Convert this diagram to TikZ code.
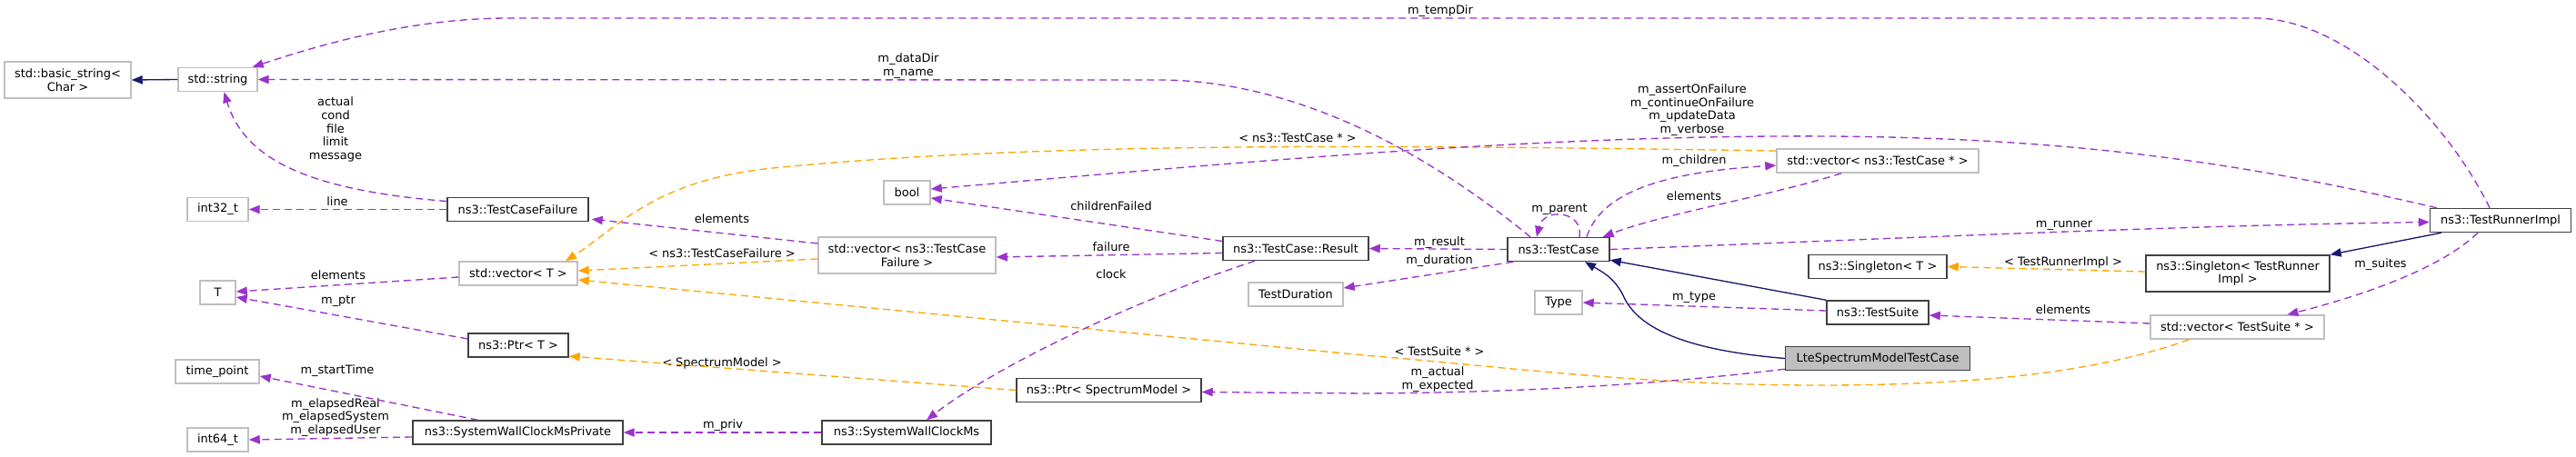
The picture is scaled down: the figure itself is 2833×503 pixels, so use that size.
\documentclass[tikz,border=0pt]{standalone}
\usepackage{fontspec}
\setmainfont{DejaVu Sans}
\usetikzlibrary{arrows.meta,calc}
\definecolor{edgep}{HTML}{9A32CD}
\definecolor{edgeo}{HTML}{FFA500}
\definecolor{edgen}{HTML}{191970}
\definecolor{boxg}{HTML}{BFBFBF}
\definecolor{boxk}{HTML}{404040}
\begin{document}
\begin{tikzpicture}[x=0.75pt,y=-0.75pt,
  font=\fontsize{9.7}{11}\selectfont,
  cls/.style={draw=boxk, line width=1.1pt, fill=white, minimum height=19.5pt, inner sep=1pt, align=center},
  ext/.style={draw=boxg, line width=1.1pt, fill=white, minimum height=19.5pt, inner sep=1pt, align=center},
  two/.style={minimum height=30pt},
  wd/.style={minimum width=#1*0.75pt},
  lbl/.style={inner sep=0pt, align=center},
  mem/.style={draw=edgep, line width=1pt, dash pattern=on 6pt off 3.8pt, -{Triangle[length=9pt,width=7pt]}},
  tpl/.style={draw=edgeo, line width=1pt, dash pattern=on 6pt off 3.8pt, -{Triangle[length=9pt,width=7pt]}},
  inh/.style={draw=edgen, line width=1pt, -{Triangle[length=9pt,width=7pt]}}]
\fill[white] (0,0) rectangle (2833,503);
\useasboundingbox (0,0) rectangle (2833,503);
% nodes
\node[ext,two,wd=139] (basicstr) at (74.5,88) {std::basic\_string<\\Char >};
\node[ext,wd=87] (string) at (239.5,87.5) {std::string};
\node[ext,wd=67] (int32) at (239.5,230.5) {int32\_t};
\node[ext,wd=39] (T) at (239.5,322) {T};
\node[ext,wd=92] (timepoint) at (239,409) {time\_point};
\node[ext,wd=67] (int64) at (239.5,484) {int64\_t};
\node[cls,wd=155] (tcf) at (569.5,230.5) {ns3::TestCaseFailure};
\node[ext,wd=130] (vecT) at (570,301) {std::vector< T >};
\node[cls,wd=110] (ptrT) at (570,380) {ns3::Ptr< T >};
\node[cls,wd=231] (swcmp) at (569.5,476) {ns3::SystemWallClockMsPrivate};
\node[ext,two,wd=195] (vecTCF) at (997.5,281) {std::vector< ns3::TestCase\\Failure >};
\node[cls,wd=186] (swcm) at (997,476) {ns3::SystemWallClockMs};
\node[ext,wd=51] (bool) at (997.5,212) {bool};
\node[cls,wd=160] (result) at (1425,273.5) {ns3::TestCase::Result};
\node[ext,wd=104] (tdur) at (1425,324) {TestDuration};
\node[cls,wd=203] (ptrSM) at (1219.5,429.5) {ns3::Ptr< SpectrumModel >};
\node[cls,wd=112] (tc) at (1714,274.5) {ns3::TestCase};
\node[ext,wd=222] (vecTC) at (2065,177) {std::vector< ns3::TestCase * >};
\node[cls,wd=152] (singT) at (2065,293.5) {ns3::Singleton< T >};
\node[ext,wd=52] (type) at (1714,333) {Type};
\node[cls,wd=112] (tsuite) at (2065,344) {ns3::TestSuite};
\node[cls,wd=203,fill=boxg] (lsmtc) at (2065,394.5) {LteSpectrumModelTestCase};
\node[cls,wd=155] (tri) at (2750,242.5) {ns3::TestRunnerImpl};
\node[cls,two,wd=202] (singTRI) at (2461,301) {ns3::Singleton< TestRunner\\Impl >};
\node[ext,wd=191] (vecTS) at (2460.5,360) {std::vector< TestSuite * >};
% labels
\node[lbl] (lTemp) at (1584,12) {m\_tempDir};
\node[lbl] (lData) at (999,72.5) {m\_dataDir\\m\_name};
\node[lbl] (lAct) at (369,142.5) {actual\\cond\\file\\limit\\message};
\node[lbl] (lLine) at (371,222) {line};
\node[lbl] (lElT) at (372,303) {elements};
\node[lbl] (lPtr) at (372,331) {m\_ptr};
\node[lbl] (lStart) at (371,408) {m\_startTime};
\node[lbl] (lElap) at (369,459.5) {m\_elapsedReal\\m\_elapsedSystem\\m\_elapsedUser};
\node[lbl] (lElF) at (794,241) {elements};
\node[lbl] (lTCFt) at (794,279) {< ns3::TestCaseFailure >};
\node[lbl] (lSM) at (794,400) {< SpectrumModel >};
\node[lbl] (lPriv) at (795,468) {m\_priv};
\node[lbl] (lTCt) at (1427,152) {< ns3::TestCase * >};
\node[lbl] (lChF) at (1222,227) {childrenFailed};
\node[lbl] (lFail) at (1222,272) {failure};
\node[lbl] (lClock) at (1222,302) {clock};
\node[lbl] (lRes) at (1583,267) {m\_result};
\node[lbl] (lDur) at (1583,287) {m\_duration};
\node[lbl] (lPar) at (1715,230) {m\_parent};
\node[lbl] (lChi) at (1863,177) {m\_children};
\node[lbl] (lElC) at (1863,216) {elements};
\node[lbl] (lAssert) at (1861,121) {m\_assertOnFailure\\m\_continueOnFailure\\m\_updateData\\m\_verbose};
\node[lbl] (lTS) at (1583,387) {< TestSuite * >};
\node[lbl] (lAE) at (1581,417.5) {m\_actual\\m\_expected};
\node[lbl] (lType) at (1863,327) {m\_type};
\node[lbl] (lRun) at (2270,248) {m\_runner};
\node[lbl] (lTRI) at (2269,289) {< TestRunnerImpl >};
\node[lbl] (lElS) at (2269,341) {elements};
\node[lbl] (lSui) at (2618,291) {m\_suites};
% edges
\draw[inh] (string.west) -- (basicstr.east);
\draw[mem] ($(tri.north)+(-12,0)$) .. controls (2690,130) and (2580,20) .. (2480,20) -- (560,20) .. controls (450,20) and (350,50) .. ($(string.north east)+(-6,0)$);
\draw[mem] ($(tc.north)+(-31,0)$) .. controls (1560,160) and (1420,90) .. (1280,88) -- (string.east);
\draw[mem] ($(tcf.west)+(0,-9)$) .. controls (350,210) and (270,180) .. ($(string.south)+(7,0)$);
\draw[mem] (tcf.west) -- (int32.east);
\draw[mem] ($(vecT.west)+(0,4)$) -- ($(T.east)+(0,-1)$);
\draw[mem] ($(ptrT.west)+(0,-7)$) -- ($(T.east)+(0,5)$);
\draw[mem] ($(swcmp.north)+(-44,0)$) -- ($(timepoint.east)+(0,5)$);
\draw[mem] ($(swcmp.west)+(0,5)$) -- (int64.east);
\draw[mem] ($(vecTCF.west)+(0,-13)$) -- ($(tcf.south east)+(3,-3)$);
\draw[tpl] ($(vecTCF.west)+(0,4)$) -- ($(vecT.east)+(0,-3)$);
\draw[tpl] ($(vecTC.west)+(0,-11)$) .. controls (1550,160) and (1150,155) .. (850,185) .. controls (720,198) and (680,250) .. ($(vecT.north)+(52,0)$);
\draw[tpl] ($(vecTS.south)+(-53,0)$) .. controls (2320,405) and (2200,424) .. (2000,424) .. controls (1800,424) and (1650,403) .. (1500,391) -- ($(vecT.east)+(0,7)$);
\draw[tpl] (ptrSM.west) -- ($(ptrT.east)+(0,12)$);
\draw[mem] ($(result.west)+(0,-8)$) -- ($(bool.east)+(0,6)$);
\draw[mem] ($(tri.north west)+(8,0)$) .. controls (2450,175) and (2250,148) .. (1950,150) .. controls (1650,152) and (1350,180) .. ($(bool.east)+(0,-4)$);
\draw[mem] ($(result.west)+(0,5)$) -- ($(vecTCF.east)+(0,2)$);
\draw[mem] ($(result.south)+(-45,0)$) .. controls (1250,330) and (1100,400) .. ($(swcm.north)+(22,0)$);
\draw[mem] (swcm.west) -- (swcmp.east);
\draw[mem] (tc.west) -- (result.east);
\draw[mem] ($(tc.south west)+(7,0)$) -- ($(tdur.east)+(0,-7)$);
\draw[mem] ($(tc.north)+(23,0)$) .. controls (1742,232) and (1698,228) .. ($(tc.north)+(-24,0)$);
\draw[mem] ($(tc.north)+(31,0)$) .. controls (1760,215) and (1820,190) .. ($(vecTC.west)+(0,5)$);
\draw[mem] ($(vecTC.south)+(-40,0)$) .. controls (1950,215) and (1830,235) .. ($(tc.north east)+(-8,0)$);
\draw[mem] (tc.east) .. controls (2100,262) and (2400,248) .. ($(tri.west)+(0,2)$);
\draw[inh] ($(tri.south west)+(13,0)$) -- (singTRI.north east);
\draw[mem] ($(tri.south)+(-25,0)$) .. controls (2680,300) and (2580,330) .. ($(vecTS.north)+(55,0)$);
\draw[tpl] ($(singTRI.west)+(0,-2)$) -- (singT.east);
\draw[mem] ($(vecTS.west)+(0,-4)$) -- ($(tsuite.east)+(0,3)$);
\draw[inh] (tsuite.north west) -- ($(tc.south east)+(0,-2)$);
\draw[mem] ($(tsuite.west)+(0,-2)$) -- (type.east);
\draw[inh] (lsmtc.west) .. controls (1850,385) and (1800,360) .. (1785,325) .. controls (1775,305) and (1760,298) .. ($(tc.south)+(29,0)$);
\draw[mem] ($(lsmtc.south west)+(0,-2)$) .. controls (1850,420) and (1700,432) .. (1500,433) -- ($(ptrSM.east)+(0,2)$);
\end{tikzpicture}
\end{document}
